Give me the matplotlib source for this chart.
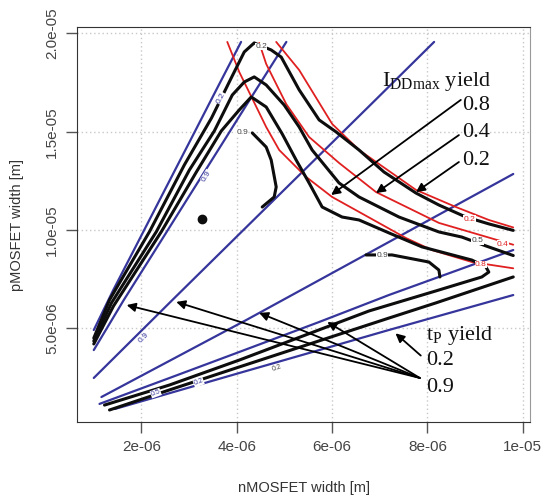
import matplotlib.pyplot as plt

plt.rcParams['font.family'] = ['Liberation Sans', 'DejaVu Sans']
plt.rcParams['mathtext.fontset'] = 'custom'
plt.rcParams['mathtext.rm'] = 'Liberation Serif'
plt.rcParams['mathtext.it'] = 'Liberation Serif:italic'

# all widths below in micrometres (nMOSFET width, pMOSFET width)

# tP yield contours (blue)
tp02_upper_x = [1.0, 1.41, 1.95, 2.49, 3.03, 3.57, 4.09]
tp02_upper_y = [4.91, 6.95, 9.49, 12.04, 14.58, 17.13, 19.57]
tp09_upper_x = [1.0, 1.63, 2.29, 2.95, 3.61, 4.27, 5.04]
tp09_upper_y = [3.89, 6.44, 8.98, 11.53, 14.07, 16.62, 19.57]
tp09_mid_x = [1.0, 2.65, 4.78, 6.91, 8.14]
tp09_mid_y = [2.47, 6.44, 11.53, 16.62, 19.57]
tp09_low_x = [1.16, 4.20, 9.80]
tp09_low_y = [1.50, 5.42, 12.85]
tp09_band_x = [1.12, 2.59, 4.05, 5.73, 7.19, 9.80]
tp09_band_y = [1.15, 2.47, 3.79, 5.32, 6.69, 8.98]
tp02_band_x = [1.44, 4.05, 5.73, 7.19, 9.80]
tp02_band_y = [0.89, 2.72, 3.89, 4.91, 6.69]

# overall yield contours (black)
y02_x = [1.0, 1.33, 2.17, 2.90, 3.47, 3.885, 4.157, 4.366, 4.722, 4.932, 5.309,
         5.728, 6.084, 6.565, 7.089, 7.759, 8.241, 8.806, 9.288, 9.80]
y02_y = [4.50, 6.44, 9.92, 13.31, 15.70, 17.74, 19.06, 19.52, 19.16, 18.80, 17.13,
         15.60, 14.99, 14.07, 12.95, 11.88, 11.27, 10.66, 10.31, 9.98]
y05_x = [1.0, 1.372, 2.314, 3.005, 3.529, 3.906, 4.157, 4.366, 4.617, 4.994, 5.309,
         5.581, 6.147, 6.565, 7.403, 8.241, 8.722, 9.225, 9.80]
y05_y = [4.35, 6.29, 9.92, 13.05, 15.04, 16.87, 17.53, 17.79, 17.38, 16.36, 15.24,
         14.07, 12.39, 11.68, 10.66, 9.90, 9.64, 9.19, 8.70]
y09_x = [1.0, 1.414, 2.419, 3.152, 3.675, 4.052, 4.304, 4.617, 4.953, 5.246, 5.518,
         5.791, 6.209, 6.565, 7.194, 7.885, 8.932, 9.225, 9.288, 9.141, 8.869, 8.178,
         6.775, 4.052, 2.586, 1.225]
y09_y = [4.20, 6.13, 9.92, 12.95, 15.04, 16.11, 16.77, 16.26, 14.89, 13.56, 12.39,
         11.17, 10.66, 10.51, 9.85, 9.14, 8.47, 8.12, 7.86, 7.61, 7.41, 6.90,
         5.88, 3.38, 2.11, 1.09]
y02_low_x = [9.80, 8.178, 7.194, 4.052, 2.586, 1.33]
y02_low_y = [7.61, 6.29, 5.52, 3.03, 1.86, 0.84]
y09_top_x = [4.325, 4.617, 4.722, 4.827, 4.785, 4.534]
y09_top_y = [14.94, 14.22, 13.56, 12.19, 11.68, 11.17]
y09_right_x = [6.712, 7.257, 8.031, 8.241, 8.262]
y09_right_y = [8.73, 8.73, 8.37, 7.96, 7.61]

# IDDmax yield contours (red)
idd02_x = [4.827, 5.309, 6.0, 6.565, 7.759, 8.597, 9.288, 9.80]
idd02_y = [19.57, 18.14, 15.40, 14.07, 12.04, 11.17, 10.51, 10.13]
idd04_x = [4.471, 4.617, 5.037, 5.518, 6.147, 6.921, 8.241, 9.393, 9.80]
idd04_y = [19.52, 18.45, 16.41, 14.73, 13.41, 11.93, 10.36, 9.54, 9.25]
idd08_x = [3.801, 4.052, 4.617, 4.890, 5.455, 6.0, 6.565, 7.550, 8.094, 8.932, 9.80]
idd08_y = [19.57, 18.04, 15.24, 14.07, 12.70, 11.68, 10.92, 9.59, 8.98, 8.37, 8.05]

dot_x, dot_y = 3.277, 10.56

um = 1e-6
BLUE = '#35359b'
RED = '#e02020'
BLACK = '#0d0d0d'

fig = plt.figure(figsize=(5.43, 4.98), dpi=100)
ax = fig.add_axes([0.1418, 0.1526, 0.8343, 0.7932])


def curve(xs, ys, color, lw):
    ax.plot([v * um for v in xs], [v * um for v in ys], color=color, lw=lw,
            solid_capstyle='round', solid_joinstyle='round')


def clabel(x, y, s, color, rot=0, size=6):
    ax.text(x * um, y * um, s, fontsize=size, color=color, ha='center', va='center',
            rotation=rot, bbox=dict(fc='white', ec='none', pad=0.2))


for xs, ys in [(tp02_upper_x, tp02_upper_y), (tp09_upper_x, tp09_upper_y),
               (tp09_mid_x, tp09_mid_y), (tp09_low_x, tp09_low_y),
               (tp09_band_x, tp09_band_y), (tp02_band_x, tp02_band_y)]:
    curve(xs, ys, BLUE, 1.6)

for xs, ys in [(idd02_x, idd02_y), (idd04_x, idd04_y), (idd08_x, idd08_y)]:
    curve(xs, ys, RED, 1.3)

for xs, ys in [(y02_x, y02_y), (y05_x, y05_y), (y09_x, y09_y), (y02_low_x, y02_low_y),
               (y09_top_x, y09_top_y), (y09_right_x, y09_right_y)]:
    curve(xs, ys, BLACK, 2.2)

ax.plot(dot_x * um, dot_y * um, 'o', color=BLACK, ms=6)

# contour labels
clabel(4.51, 19.35, '0.2', '#444')
clabel(4.11, 14.94, '0.9', '#444')
clabel(9.05, 9.45, '0.5', '#444')
clabel(7.05, 8.70, '0.9', '#444')
clabel(9.58, 9.28, '0.4', RED)
clabel(8.88, 10.55, '0.2', RED)
clabel(9.12, 8.25, '0.8', RED)
clabel(3.67, 16.70, '0.2', BLUE, 62)
clabel(3.36, 12.75, '0.9', BLUE, 58)
clabel(2.05, 4.50, '0.9', BLUE, 45)
clabel(2.30, 1.70, '0.5', BLUE, 20, 5)
clabel(3.20, 2.25, '0.2', BLUE, 20, 5)
clabel(4.85, 2.95, '0.2', '#444', 18, 5)

# annotations
tfont = dict(fontsize=16, color='#111', family='Liberation Serif')
ax.text(7.05 * um, 17.35 * um, r'$\mathrm{I_{DDmax}}$ yield', **tfont)
ax.text(8.72 * um, 16.11 * um, '0.8', **tfont)
ax.text(8.72 * um, 14.73 * um, '0.4', **tfont)
ax.text(8.72 * um, 13.31 * um, '0.2', **tfont)
ax.text(7.97 * um, 4.40 * um, r'$\mathrm{t_P}$ yield', **tfont)
ax.text(7.97 * um, 3.13 * um, '0.2', **tfont)
ax.text(7.97 * um, 1.76 * um, '0.9', **tfont)

arrow = dict(arrowstyle='-|>', lw=1.3, color='k', mutation_scale=13,
             shrinkA=0, shrinkB=0)
idd_arrows = [((8.70, 16.62), (5.98, 11.78)),
              ((8.66, 14.83), (6.92, 11.88)),
              ((8.66, 13.46), (7.76, 11.93))]
tp_arrows = [((7.86, 3.61), (7.33, 4.74)),
             ((7.84, 2.47), (1.69, 6.18)),
             ((7.84, 2.47), (2.73, 6.34)),
             ((7.84, 2.47), (4.47, 5.78)),
             ((7.84, 2.47), (5.90, 5.32))]
for (x0, y0), (x1, y1) in idd_arrows + tp_arrows:
    ax.annotate('', xy=(x1 * um, y1 * um), xytext=(x0 * um, y0 * um),
                arrowprops=arrow)

ax.set_xlim(0.648 * um, 10.152 * um)
ax.set_ylim(0.229 * um, 20.33 * um)
ax.set_xticks([2e-6, 4e-6, 6e-6, 8e-6, 1e-5],
              labels=['2e-06', '4e-06', '6e-06', '8e-06', '1e-05'])
ax.set_yticks([5e-6, 1e-5, 1.5e-5, 2e-5],
              labels=['5.0e-06', '1.0e-05', '1.5e-05', '2.0e-05'],
              rotation=90, va='center')
ax.tick_params(direction='out', length=8, width=1, color='#555',
               labelcolor='#444', labelsize=11, pad=5)
ax.grid(True, color='#c8c8c8', ls=(0, (1, 2)), lw=1)
ax.set_axisbelow(True)
for side in ['left', 'bottom', 'top']:
    ax.spines[side].set_color('#333')
ax.spines['right'].set_color('#999')

fig.text(303.5 / 543, 1 - 488 / 498, 'nMOSFET width [m]', fontsize=10.5,
         color='#333', ha='center', va='center')
fig.text(17 / 543, 1 - 225 / 498, 'pMOSFET width [m]', fontsize=10.5,
         color='#333', ha='center', va='center', rotation=90)

fig.savefig('out.png', dpi=100)
